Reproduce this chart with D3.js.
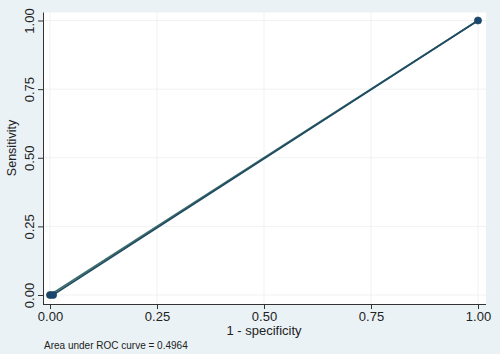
<!DOCTYPE html>
<html>
<head>
<meta charset="utf-8">
<script src="https://cdn.jsdelivr.net/npm/d3@7"></script>
<style>
  html, body { margin: 0; padding: 0; background: #eaf2f6; }
  svg { display: block; font-family: "Liberation Sans", Arial, sans-serif; }
</style>
</head>
<body>
<div id="chart"></div>
<script>
// ROC curve points (1 - specificity, sensitivity)
const rocX = [0, 0.0072, 1];
const rocY = [0, 0, 1];
const tickValues = [0, 0.25, 0.5, 0.75, 1];
const tickLabels = ["0.00", "0.25", "0.50", "0.75", "1.00"];
const aucText = "Area under ROC curve = 0.4964";

const width = 500, height = 354;

const svg = d3.select('#chart').append('svg')
    .attr('width', width)
    .attr('height', height);

svg.append('rect')
    .attr('width', width).attr('height', height)
    .attr('fill', '#eaf2f6');

const x = d3.scaleLinear().domain([0, 1]).range([50, 478]);
const y = d3.scaleLinear().domain([0, 1]).range([295, 20.5]);

// plot region
svg.append('rect')
    .attr('x', 43).attr('y', 12.5)
    .attr('width', 443).attr('height', 291.5)
    .attr('fill', '#ffffff');

// grid
const grid = svg.append('g').attr('stroke', '#eff2f3').attr('stroke-width', 1);
grid.selectAll('line.h')
  .data(tickValues)
  .enter().append('line')
    .attr('x1', 43).attr('x2', 486)
    .attr('y1', d => y(d)).attr('y2', d => y(d));
grid.selectAll('line.v')
  .data(tickValues)
  .enter().append('line')
    .attr('y1', 12.5).attr('y2', 304)
    .attr('x1', d => x(d)).attr('x2', d => x(d));

// x axis
const xAxis = d3.axisBottom(x)
    .tickValues(tickValues)
    .tickFormat((d, i) => tickLabels[i])
    .tickSize(5)
    .tickSizeOuter(0);
const gx = svg.append('g')
    .attr('transform', 'translate(0,304)')
    .call(xAxis);
gx.select('.domain').attr('d', 'M43,0.5H486').attr('stroke', '#333');
gx.selectAll('.tick line').attr('stroke', '#333');
gx.selectAll('.tick text')
    .attr('font-size', 13)
    .attr('fill', '#222')
    .attr('y', 8)
    .attr('dy', '0.71em');

// y axis
const yAxis = d3.axisLeft(y)
    .tickValues(tickValues)
    .tickFormat((d, i) => tickLabels[i])
    .tickSize(5)
    .tickSizeOuter(0);
const gy = svg.append('g')
    .attr('transform', 'translate(43,0)')
    .call(yAxis);
gy.select('.domain').attr('d', 'M0.5,12.5V304').attr('stroke', '#333');
gy.selectAll('.tick line').attr('stroke', '#333');
gy.selectAll('.tick text')
    .attr('font-size', 13)
    .attr('fill', '#222')
    .attr('x', null).attr('dy', null)
    .attr('text-anchor', 'middle')
    .attr('transform', 'translate(-9,0) rotate(-90)');

// axis titles
svg.append('text')
    .attr('x', x(0.5)).attr('y', 335)
    .attr('text-anchor', 'middle')
    .attr('font-size', 13)
    .attr('fill', '#222')
    .text('1 - specificity');

svg.append('text')
    .attr('transform', 'translate(16,148) rotate(-90)')
    .attr('text-anchor', 'middle')
    .attr('font-size', 12.5)
    .attr('fill', '#222')
    .text('Sensitivity');

// reference line
svg.append('line')
    .attr('x1', x(0)).attr('y1', y(0))
    .attr('x2', x(1)).attr('y2', y(1))
    .attr('stroke', '#3d6e6a')
    .attr('stroke-width', 1.6);

// ROC curve
const pts = rocX.map((d, i) => [d, rocY[i]]);
svg.append('path')
    .datum(pts)
    .attr('fill', 'none')
    .attr('stroke', '#1f4b62')
    .attr('stroke-width', 1.6)
    .attr('d', d3.line().x(d => x(d[0])).y(d => y(d[1])));

svg.append('g')
  .selectAll('circle')
  .data(pts)
  .enter().append('circle')
    .attr('cx', d => x(d[0]))
    .attr('cy', d => y(d[1]))
    .attr('r', 3.6)
    .attr('fill', '#1a476f')
    .attr('stroke', '#163c5c')
    .attr('stroke-width', 0.6);

svg.append('text')
    .attr('x', 44).attr('y', 349)
    .attr('font-size', 10)
    .attr('fill', '#222')
    .text(aucText);
</script>
</body>
</html>
